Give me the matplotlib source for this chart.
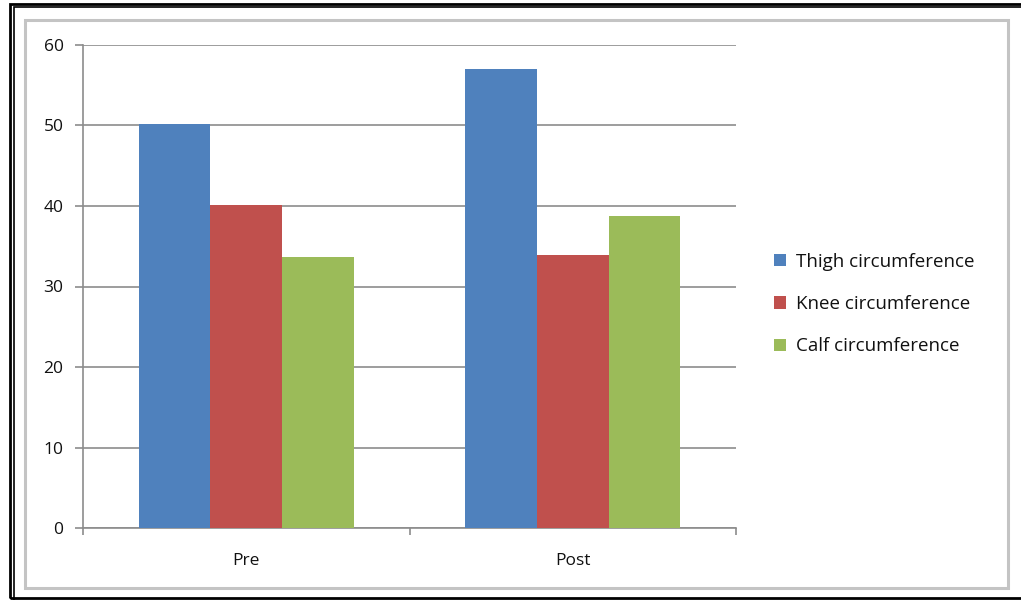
import matplotlib.pyplot as plt
from matplotlib.patches import Rectangle
import numpy as np

plt.rcParams['font.family'] = ['Open Sans', 'DejaVu Sans']

categories = ['Pre', 'Post']
series_names = ['Thigh circumference', 'Knee circumference', 'Calf circumference']
thigh = [50.2, 57.0]
knee = [40.1, 33.9]
calf = [33.7, 38.8]
colors = ['#4F81BD', '#C0504D', '#9BBB59']

W, H = 1021, 600
fig = plt.figure(figsize=(W / 100, H / 100), dpi=100)
fig.patch.set_facecolor('white')

# outer black double frame and inner grey chart border (pixel coords -> figure fraction)
def px_rect(x0, y0, x1, y1, **kw):
    r = Rectangle((x0 / W, 1 - y1 / H), (x1 - x0) / W, (y1 - y0) / H,
                  transform=fig.transFigure, fill=False, **kw)
    fig.patches.append(r)

px_rect(10, 3.5, 1040, 598, edgecolor='black', linewidth=2.0)
px_rect(13.5, 6.5, 1040, 640, edgecolor='black', linewidth=1.2)
px_rect(24.5, 19.5, 1007.5, 587.5, edgecolor='#c4c4c4', linewidth=2.2)

ax = fig.add_axes([83 / W, 1 - 528 / H, (736 - 83) / W, (528 - 45) / H])

x = np.arange(len(categories))
w = 0.22
for i, (vals, name) in enumerate(zip([thigh, knee, calf], series_names)):
    ax.bar(x + (i - 1) * w, vals, width=w, color=colors[i], label=name, zorder=3)

ax.set_xlim(-0.5, 1.5)
ax.set_ylim(0, 60)
ax.set_yticks(range(0, 61, 10))
ax.yaxis.grid(True, color='#8c8c8c', linewidth=1.2, zorder=0)
ax.set_axisbelow(True)

ax.set_xticks(x)
ax.set_xticklabels(categories)
ax.set_xticks([-0.5, 0.5, 1.5], minor=True)
ax.tick_params(axis='x', which='major', length=0, pad=18, labelsize=12.5, colors='#111111')
ax.tick_params(axis='x', which='minor', length=5, width=1.2, color='#8c8c8c')
ax.tick_params(axis='y', length=6, width=1.2, color='#8c8c8c', pad=8,
               labelsize=12.5, labelcolor='#111111')

for s in ['top', 'right']:
    ax.spines[s].set_visible(False)
for s in ['left', 'bottom']:
    ax.spines[s].set_color('#8c8c8c')
    ax.spines[s].set_linewidth(1.2)

fig.legend(loc='center left', bbox_to_anchor=(766 / W, 1 - 304 / H), frameon=False,
           fontsize=13.5, handlelength=0.65, handleheight=0.65, handletextpad=0.55,
           labelspacing=1.3, borderaxespad=0, labelcolor='#111111')

fig.savefig('out.png', dpi=100)
